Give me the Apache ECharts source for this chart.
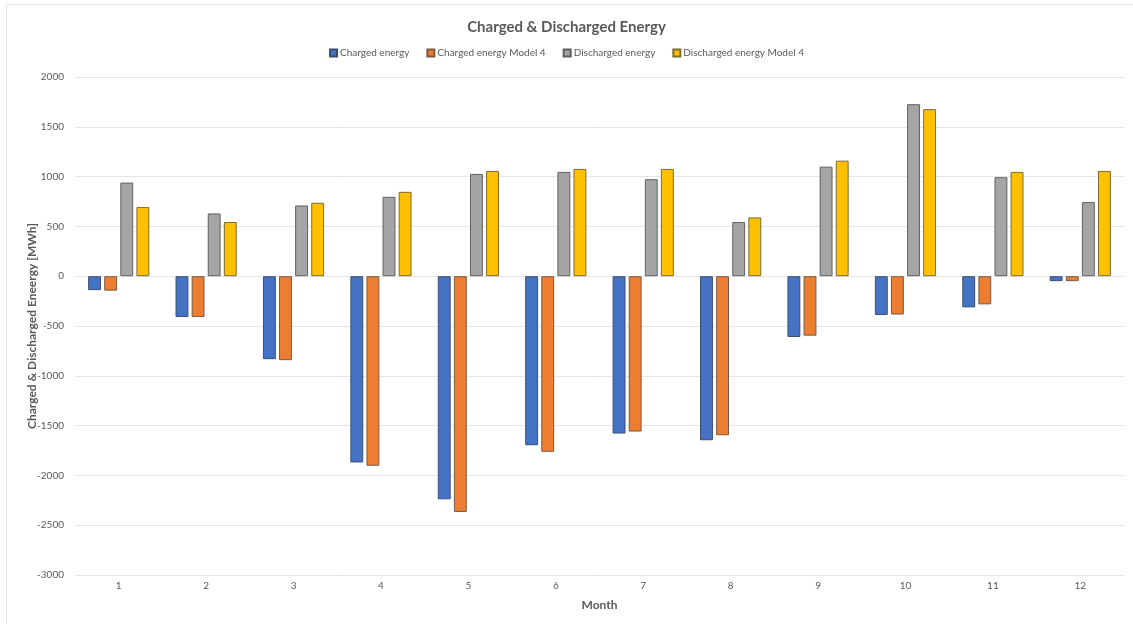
<!DOCTYPE html>
<html>
<head>
<meta charset="utf-8">
<script src="https://cdn.jsdelivr.net/npm/echarts@6/dist/echarts.min.js"></script>
<style>
  html, body { margin: 0; padding: 0; background: #fff; }
  #chart { width: 1133px; height: 624px; }
</style>
</head>
<body>
<div id="chart"></div>
<script>
// Monthly battery energy flows [MWh]
const months = ['1', '2', '3', '4', '5', '6', '7', '8', '9', '10', '11', '12'];
const chargedEnergy = [-140, -410, -833, -1870, -2240, -1697, -1580, -1647, -610, -390, -313, -50];
const chargedEnergyModel4 = [-145, -410, -843, -1903, -2367, -1763, -1560, -1597, -597, -385, -283, -50];
const dischargedEnergy = [940, 630, 710, 797, 1027, 1047, 974, 544, 1100, 1727, 994, 744];
const dischargedEnergyModel4 = [694, 544, 737, 847, 1057, 1077, 1077, 590, 1160, 1677, 1047, 1057];

const FONT = 'Lato, "Open Sans", sans-serif';
const TEXT = '#595959';

function barSeries(name, data, fill, edge) {
  return {
    name: name,
    type: 'bar',
    data: data,
    barGap: '25%',
    barCategoryGap: '30%',
    itemStyle: { color: fill, borderColor: edge, borderWidth: 1 }
  };
}

const chart = echarts.init(document.getElementById('chart'));
chart.setOption({
  animation: false,
  backgroundColor: '#ffffff',
  textStyle: { fontFamily: FONT },
  graphic: [{
    type: 'rect',
    shape: { x: 6.5, y: 4.5, width: 1140, height: 640 },
    style: { fill: 'none', stroke: '#e3e3e3', lineWidth: 1 },
    silent: true,
    z: -10
  }],
  title: {
    text: 'Charged & Discharged Energy',
    left: 'center',
    top: 15,
    textStyle: { fontFamily: FONT, fontSize: 15, fontWeight: 'bold', color: TEXT }
  },
  legend: {
    top: 43,
    left: 'center',
    itemWidth: 7,
    itemHeight: 7,
    itemGap: 17,
    icon: 'rect',
    textStyle: { fontFamily: FONT, fontSize: 10, color: TEXT, padding: [0, 0, 0, -2] }
  },
  grid: { left: 75, right: 9, top: 77, bottom: 49, containLabel: false },
  xAxis: {
    type: 'category',
    data: months,
    name: 'Month',
    nameLocation: 'middle',
    nameGap: 24,
    nameTextStyle: { fontFamily: FONT, fontSize: 12, fontWeight: 'bold', color: TEXT },
    axisLine: { show: false, onZero: false },
    axisTick: { show: false },
    axisLabel: { fontFamily: FONT, fontSize: 10, color: TEXT, margin: 6 }
  },
  yAxis: {
    type: 'value',
    min: -3000,
    max: 2000,
    interval: 500,
    name: 'Charged & Discharged Eneergy [MWh]',
    nameLocation: 'middle',
    nameGap: 37,
    nameMoveOverlap: false,
    nameTextStyle: { fontFamily: FONT, fontSize: 12, fontWeight: 'bold', color: TEXT },
    axisLine: { show: false },
    axisTick: { show: false },
    axisLabel: {
      fontFamily: FONT, fontSize: 10, color: TEXT, margin: 11,
      formatter: function (v) { return String(v); }
    },
    splitLine: { lineStyle: { color: '#e6e6e6', width: 1 } }
  },
  series: [
    barSeries('Charged energy', chargedEnergy, '#4472C4', '#3a4f72'),
    barSeries('Charged energy Model 4', chargedEnergyModel4, '#ED7D31', '#7a5a44'),
    barSeries('Discharged energy', dischargedEnergy, '#A5A5A5', '#606060'),
    barSeries('Discharged energy Model 4', dischargedEnergyModel4, '#FFC000', '#7f6a30')
  ]
});
</script>
</body>
</html>
